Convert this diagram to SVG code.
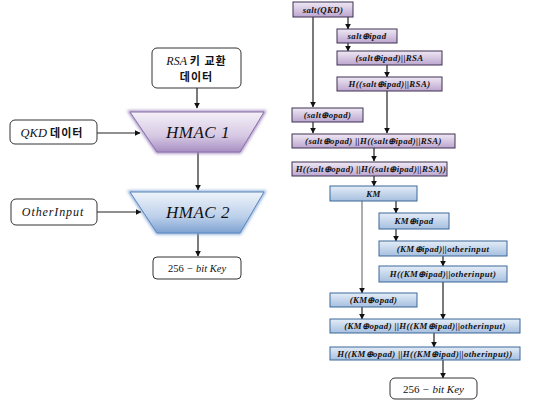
<svg xmlns="http://www.w3.org/2000/svg" width="541" height="402" viewBox="0 0 541 402">
<style>
.wb{fill:#fff;stroke:#333;stroke-width:1}
.pb{fill:url(#gp);stroke:#3d3050;stroke-width:1}
.bb{fill:url(#gb);stroke:#3a6898;stroke-width:1}
.t{font-family:"Liberation Serif",serif;font-style:italic;fill:#111;text-anchor:middle}
.s{font-size:8.8px;font-weight:bold;letter-spacing:0.4px}
.k{font-family:"Noto Sans CJK KR",sans-serif;font-style:normal;font-weight:bold;font-size:11px;letter-spacing:1px}
.ln{stroke:#222;stroke-width:1.2;fill:none}
</style>
<defs>
<linearGradient id="gp" x1="0" y1="0" x2="0" y2="1"><stop offset="0" stop-color="#efe8f4"/><stop offset="1" stop-color="#bca6cf"/></linearGradient>
<linearGradient id="gb" x1="0" y1="0" x2="0" y2="1"><stop offset="0" stop-color="#e4edf8"/><stop offset="1" stop-color="#a6bfdf"/></linearGradient>
<linearGradient id="hp" x1="0" y1="0" x2="0" y2="1"><stop offset="0" stop-color="#f4f0f8"/><stop offset="0.6" stop-color="#d6c8e3"/><stop offset="1" stop-color="#a78fc2"/></linearGradient>
<linearGradient id="hb" x1="0" y1="0" x2="0" y2="1"><stop offset="0" stop-color="#eef3fa"/><stop offset="0.6" stop-color="#bcd0ea"/><stop offset="1" stop-color="#7ea2d2"/></linearGradient>
<filter id="glow" x="-10%" y="-20%" width="120%" height="140%"><feGaussianBlur stdDeviation="1.5"/></filter>
<marker id="a" viewBox="0 0 10 10" refX="9" refY="5" markerWidth="5" markerHeight="5" orient="auto"><path d="M0,0L10,5L0,10z" fill="#111"/></marker>
</defs>

<g id="connectors">
<path class="ln" d="M197,88V108" marker-end="url(#a)"/>
<path class="ln" d="M97,133H140" marker-end="url(#a)"/>
<path class="ln" d="M198,152V190" marker-end="url(#a)"/>
<path class="ln" d="M97,212H141" marker-end="url(#a)"/>
<path class="ln" d="M198,233V256" marker-end="url(#a)"/>
<path class="ln" d="M313,17V107" marker-end="url(#a)"/>
<path class="ln" d="M348,17V29" marker-end="url(#a)"/>
<path class="ln" d="M348,43V51" marker-end="url(#a)"/>
<path class="ln" d="M387,65V77" marker-end="url(#a)"/>
<path class="ln" d="M387,91V133" marker-end="url(#a)"/>
<path class="ln" d="M313,122V133" marker-end="url(#a)"/>
<path class="ln" d="M374,148V161" marker-end="url(#a)"/>
<path class="ln" d="M374,176V186" marker-end="url(#a)"/>
<path class="ln" d="M362,201V293" style="stroke:#777" marker-end="url(#a)"/>
<path class="ln" d="M396,201V213" marker-end="url(#a)"/>
<path class="ln" d="M396,229V241" marker-end="url(#a)"/>
<path class="ln" d="M443,256V266" marker-end="url(#a)"/>
<path class="ln" d="M443,282V319" marker-end="url(#a)"/>
<path class="ln" d="M362,307V319" marker-end="url(#a)"/>
<path class="ln" d="M434,333V347" marker-end="url(#a)"/>
<path class="ln" d="M443,360V378" marker-end="url(#a)"/>
</g>

<g id="rsa"><rect class="wb" x="152" y="48" width="89" height="40" rx="5"/>
<text class="t" x="196.5" y="65" font-size="12"><tspan>RSA </tspan><tspan class="k">키 교환</tspan></text>
<text class="t k" x="196.5" y="81">데이터</text></g>

<g id="qkd"><rect class="wb" x="10" y="120" width="87" height="24" rx="5"/>
<text class="t" x="52" y="137" font-size="12.5"><tspan>QKD </tspan><tspan class="k">데이터</tspan></text></g>

<g id="hmac1"><path d="M130,112H264L240,152H157Z" fill="none" stroke="#9b84bc" stroke-width="3" filter="url(#glow)"/>
<path d="M130,112H264L240,152H157Z" fill="url(#hp)" stroke="#8a70aa" stroke-width="1"/>
<text class="t" x="198" y="138" font-size="17" letter-spacing="0.5">HMAC 1</text></g>

<g id="other"><rect class="wb" x="11" y="199" width="86" height="26" rx="5"/>
<text class="t" x="53" y="216" font-size="12" letter-spacing="0.9">OtherInput</text></g>

<g id="hmac2"><path d="M130,192H264L240,233H157Z" fill="none" stroke="#86a8d4" stroke-width="3" filter="url(#glow)"/>
<path d="M130,192H264L240,233H157Z" fill="url(#hb)" stroke="#5b86c0" stroke-width="1"/>
<text class="t" x="198" y="218" font-size="17" letter-spacing="0.5">HMAC 2</text></g>

<g id="key1"><rect class="wb" x="153" y="257" width="88" height="22" rx="4"/>
<text class="t" x="197" y="272" font-size="10.5"><tspan font-style="normal">256 </tspan><tspan> − bit Key</tspan></text></g>

<g id="saltqkd"><rect class="pb" x="293" y="2" width="60" height="15"/><text class="t s" x="323" y="12.8">salt(QKD)</text></g>
<g id="saltipad"><rect class="pb" x="337" y="29" width="60" height="14"/><text class="t s" x="367" y="39.3">salt⊕ipad</text></g>
<g id="saltipadrsa"><rect class="pb" x="337" y="51" width="105" height="14"/><text class="t s" x="389.5" y="61.3">(salt⊕ipad)||RSA</text></g>
<g id="hsaltipadrsa"><rect class="pb" x="337" y="77" width="105" height="14"/><text class="t s" x="389.5" y="87.3">H((salt⊕ipad)||RSA)</text></g>
<g id="saltopad"><rect class="pb" x="292" y="108" width="71" height="14"/><text class="t s" x="327.5" y="118.3">(salt⊕opad)</text></g>
<g id="concat1"><rect class="pb" x="292" y="134" width="163" height="14"/><text class="t s" x="373.5" y="144.3">(salt⊕opad) ||H((salt⊕ipad)||RSA)</text></g>
<g id="km_h"><rect class="pb" x="292" y="162" width="155" height="14"/><text class="t s" x="371" y="172.3">H((salt⊕opad) ||H((salt⊕ipad)||RSA))</text></g>

<g id="km"><rect class="bb" x="330" y="186" width="87" height="15"/><text class="t s" x="373.5" y="196.8">KM</text></g>
<g id="kmipad"><rect class="bb" x="379" y="213" width="70" height="16"/><text class="t s" x="414" y="224.3">KM⊕ipad</text></g>
<g id="kmipadother"><rect class="bb" x="379" y="241" width="128" height="15"/><text class="t s" x="443" y="251.8">(KM⊕ipad)||otherinput</text></g>
<g id="hkmipad"><rect class="bb" x="379" y="266" width="128" height="16"/><text class="t s" x="443" y="277.3">H((KM⊕ipad)||otherinput)</text></g>
<g id="kmopad"><rect class="bb" x="330" y="293" width="87" height="14"/><text class="t s" x="373.5" y="303.3">(KM⊕opad)</text></g>
<g id="concat2"><rect class="bb" x="330" y="319" width="190" height="14"/><text class="t s" x="425" y="329.3">(KM⊕opad) ||H((KM⊕ipad)||otherinput)</text></g>
<g id="final"><rect class="bb" x="330" y="347" width="190" height="13"/><text class="t s" x="425" y="356.8">H((KM⊕opad) ||H((KM⊕ipad)||otherinput))</text></g>

<g id="key2"><rect class="wb" x="390" y="378" width="87" height="21" rx="5"/>
<text class="t" x="433.5" y="392.5" font-size="11"><tspan font-style="normal">256 </tspan><tspan> − bit Key</tspan></text></g>
</svg>
